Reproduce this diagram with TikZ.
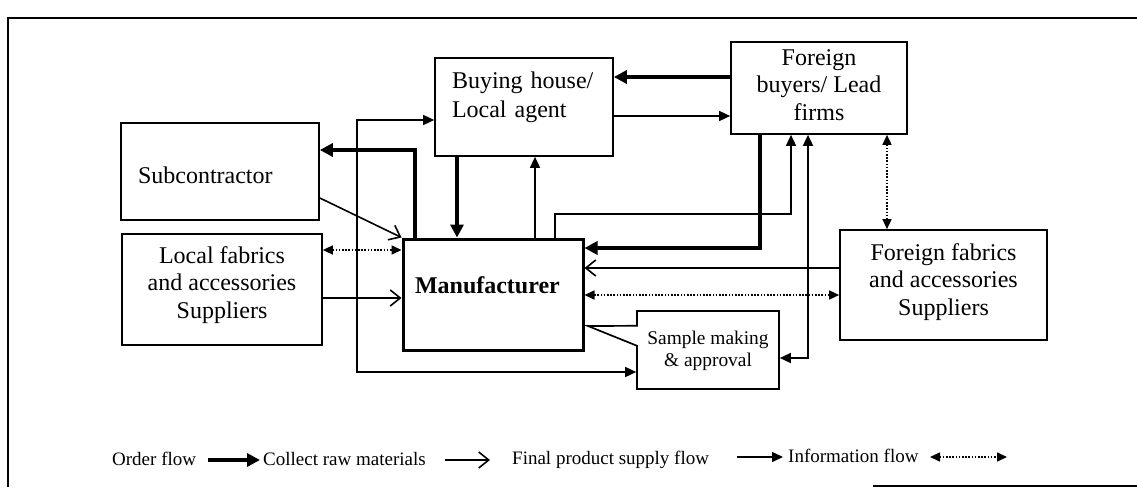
\documentclass[tikz,border=0pt]{standalone}
\usepackage{fontspec}
\setmainfont{Liberation Serif}
\usetikzlibrary{arrows.meta,shapes.callouts}
\begin{document}
\begin{tikzpicture}[x=1pt,y=-1pt,
  box/.style={draw, line width=1.7pt, inner sep=0pt, align=center,
    font=\fontsize{24}{27.5}\selectfont},
  order/.style={line width=4pt, -{Triangle[length=13pt,width=13pt]}},
  collect/.style={line width=1.6pt, -{Straight Barb[length=10pt,width=16pt]}},
  supply/.style={line width=1.6pt, -{Triangle[length=11pt,width=10pt]}},
  supplyboth/.style={line width=1.6pt, {Triangle[length=11pt,width=10pt]}-{Triangle[length=11pt,width=10pt]}},
  info/.style={line width=1.6pt, dash pattern=on 1.6pt off 1.6pt,
    {Triangle[length=10pt,width=9pt]}-{Triangle[length=10pt,width=9pt]}},
  lgd/.style={inner sep=0pt, font=\fontsize{19}{22}\selectfont}]
\useasboundingbox (0,0) rectangle (1137,487);
\fill[white] (0,0) rectangle (1137,487);
% frame
\draw[line width=1.5pt] (8,487) -- (8,18) -- (1137,18);
\draw[line width=1.5pt] (873,486) -- (1137,486);
% boxes
\node[box, minimum width=198pt, minimum height=97pt, text width=164pt, align=left,
  text height=28pt, text depth=5pt] (sub) at (220,171.5) {Subcontractor};
\node[box, minimum width=178pt, minimum height=98pt, text width=144pt, align=left,
  font=\fontsize{24}{29}\selectfont, text height=17pt, text depth=54pt] (buy) at (524,107)
  {Buying house/\\Local agent};
\node[box, minimum width=176pt, minimum height=92pt, text height=69.8pt, text depth=5pt]
  (fb) at (819,88) {Foreign\\buyers/ Lead\\firms};
\node[box, minimum width=200pt, minimum height=111pt, text height=62.8pt, text depth=5pt]
  (lf) at (222,289.5) {Local fabrics\\and accessories\\Suppliers};
\node[box, line width=3pt, minimum width=180pt, minimum height=111pt, text width=156pt,
  align=left, font=\fontsize{24}{27.5}\selectfont\bfseries, text height=17pt, text depth=19pt]
  (man) at (493,294.5) {Manufacturer};
\node[box, minimum width=207pt, minimum height=110pt, text height=65.8pt, text depth=5pt]
  (ff) at (943.5,285) {Foreign fabrics\\and accessories\\Suppliers};
\node[box, rectangle callout, callout absolute pointer={(588,326)}, callout pointer width=20pt,
  minimum width=142pt, minimum height=78pt, font=\fontsize{19.4}{22}\selectfont,
  text height=37.8pt, text depth=5pt] (samp) at (708,350) {Sample making\\\& approval};
% connectors
\draw[order] (fb.west |- 0,77) -- (buy.east |- 0,77);
\draw[supply] (buy.east |- 0,116) -- (fb.west |- 0,116);
\draw[supplyboth] (buy.west |- 0,120) -| (357,372) -- (samp.west |- 0,372);
\draw[order] (man.north -| 415,0) |- (sub.east |- 0,150);
\draw[collect] (sub.east |- 0,198) -- (man.north west);
\draw[order] (buy.south -| 457,0) -- (man.north -| 457,0);
\draw[supply] (man.north -| 535,0) -- (buy.south -| 535,0);
\draw[supply] (man.north -| 555,0) -- (555,214) -| (fb.south -| 791,0);
\draw[order] (fb.south -| 760,0) |- (man.east |- 0,248);
\draw[supplyboth] (fb.south -| 808,0) |- (samp.east |- 0,358);
\draw[info] (fb.south -| 887,0) -- (ff.north -| 887,0);
\draw[collect] (ff.west |- 0,268) -- (man.east |- 0,268);
\draw[info] (man.east |- 0,295) -- (ff.west |- 0,295);
\draw[info] (lf.east |- 0,250) -- (man.west |- 0,250);
\draw[collect] (lf.east |- 0,298) -- (man.west |- 0,298);
% legend
\node[lgd, anchor=base west] (lgO) at (112,465) {Order flow};
\node[lgd, anchor=base west] (lgC) at (263,465) {Collect raw materials};
\node[lgd, anchor=base west] (lgF) at (512,464) {Final product supply flow};
\node[lgd, anchor=base west] (lgI) at (788,462) {Information flow};
\coordinate (lgOa) at (208,460); \coordinate (lgOb) at (260,460);
\coordinate (lgCa) at (445,460); \coordinate (lgCb) at (490,460);
\coordinate (lgFa) at (737,457); \coordinate (lgFb) at (783,457);
\coordinate (lgIa) at (930,457); \coordinate (lgIb) at (1007,457);
\draw[order] (lgOa) -- (lgOb);
\draw[collect] (lgCa) -- (lgCb);
\draw[supply] (lgFa) -- (lgFb);
\draw[info] (lgIa) -- (lgIb);
\end{tikzpicture}
\end{document}
